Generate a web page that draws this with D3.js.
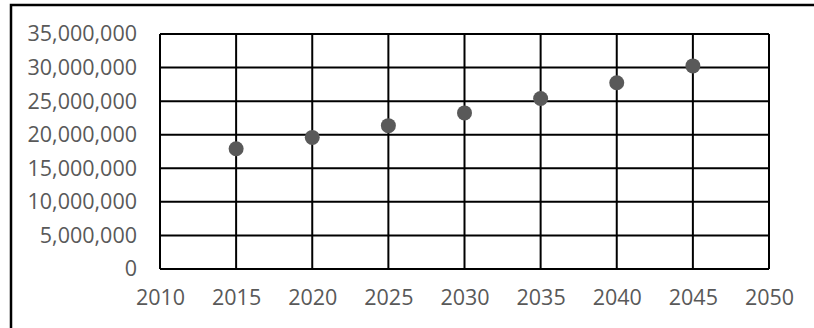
<!DOCTYPE html>
<html>
<head>
<meta charset="utf-8">
<script src="https://cdn.jsdelivr.net/npm/d3@7"></script>
<style>
  html, body { margin: 0; padding: 0; background: #fff; }
  svg { display: block; }
  text { font-family: "Open Sans", "Noto Sans", sans-serif; fill: #595959; }
</style>
</head>
<body>
<svg id="chart" width="814" height="328"></svg>
<script>
// Population projection, one point per five years
const years = [2015, 2020, 2025, 2030, 2035, 2040, 2045];
const population = [17900000, 19600000, 21350000, 23250000, 25400000, 27750000, 30250000];

const xTicks = [2010, 2015, 2020, 2025, 2030, 2035, 2040, 2045, 2050];
const yTicks = [0, 5000000, 10000000, 15000000, 20000000, 25000000, 30000000, 35000000];

const svg = d3.select("#chart");
const plot = { left: 160, top: 34, right: 769, bottom: 269 };

const x = d3.scaleLinear().domain([2010, 2050]).range([plot.left, plot.right]);
const y = d3.scaleLinear().domain([0, 35000000]).range([plot.bottom, plot.top]);

// outer chart frame (left and top edges visible)
svg.append("path")
  .attr("d", "M11,340 L11,5 L830,5")
  .attr("fill", "none")
  .attr("stroke", "#000")
  .attr("stroke-width", 2.5);

// horizontal gridlines
svg.append("g")
  .selectAll("line")
  .data(yTicks)
  .join("line")
  .attr("x1", plot.left).attr("x2", plot.right)
  .attr("y1", d => y(d)).attr("y2", d => y(d))
  .attr("stroke", "#000").attr("stroke-width", 2);

// vertical gridlines
svg.append("g")
  .selectAll("line")
  .data(xTicks)
  .join("line")
  .attr("x1", d => x(d)).attr("x2", d => x(d))
  .attr("y1", plot.top).attr("y2", plot.bottom)
  .attr("stroke", "#000").attr("stroke-width", 2);

// y-axis labels
const fmt = d3.format(",");
const yAxis = d3.axisLeft(y).tickValues(yTicks).tickFormat(fmt).tickSize(0).tickPadding(23);
svg.append("g")
  .attr("transform", `translate(${plot.left},0)`)
  .call(yAxis)
  .call(g => g.select(".domain").remove())
  .selectAll("text")
  .attr("font-size", "21.5px")
  .attr("fill", "#595959")
  .style("font-family", "'Open Sans', sans-serif");

// x-axis labels
const xAxis = d3.axisBottom(x).tickValues(xTicks).tickFormat(d3.format("d")).tickSize(0).tickPadding(21);
svg.append("g")
  .attr("transform", `translate(0,${plot.bottom})`)
  .call(xAxis)
  .call(g => g.select(".domain").remove())
  .selectAll("text")
  .attr("font-size", "21.5px")
  .attr("fill", "#595959")
  .style("font-family", "'Open Sans', sans-serif");

// data points
svg.append("g")
  .selectAll("circle")
  .data(years.map((yr, i) => ({ yr, v: population[i] })))
  .join("circle")
  .attr("cx", d => x(d.yr))
  .attr("cy", d => y(d.v))
  .attr("r", 7.5)
  .attr("fill", "#595959");
</script>
</body>
</html>
